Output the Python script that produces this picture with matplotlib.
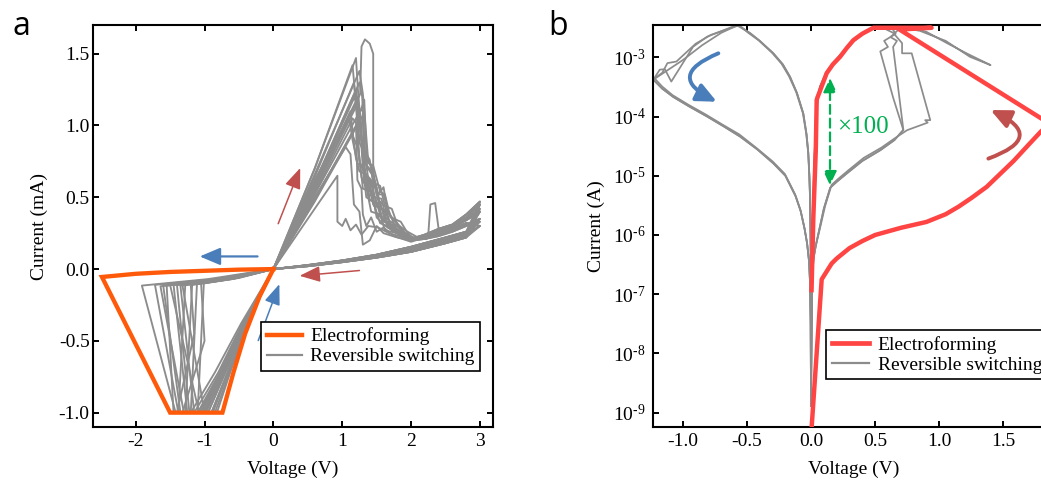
import matplotlib
matplotlib.use("Agg")
import matplotlib.pyplot as plt
from matplotlib.lines import Line2D
from matplotlib.patches import FancyArrowPatch
from matplotlib.ticker import FixedLocator, FixedFormatter, NullLocator

plt.rcParams.update({
    "font.family": ["Liberation Serif", "DejaVu Serif"],
    "font.size": 14,
    "axes.unicode_minus": False,
    "mathtext.fontset": "custom",
    "mathtext.rm": "Liberation Serif",
    "mathtext.it": "Liberation Serif:italic",
    "mathtext.bf": "Liberation Serif:bold",
})

GRAY = "#8c8c8c"
ORANGE = "#ff5a0a"
RED = "#ff4444"
BLUE = "#4a7ebb"
BRICK = "#c0504d"
GREEN = "#00b050"

# ---------------- panel a : linear I-V (mA) ----------------
# electroforming sweep
ef_a_v = [0.0, -0.5, -1.0, -1.5, -2.0, -2.49, -1.5, -0.74, -0.58, -0.41, -0.2, 0.0]
ef_a_i = [0.0, -0.004, -0.012, -0.02, -0.033, -0.055, -1.0, -1.0, -0.72, -0.45, -0.19, 0.0]

# positive sweeps of the switching cycles (0 V up to ~2 V, LRS -> reset)
up_sweeps_a = [
    [(0, 0), (0.6, 0.70), (1.2, 1.47), (1.26, 1.0), (1.3, 0.70), (1.37, 0.62), (1.45, 0.45), (1.55, 0.47), (1.62, 0.34), (1.75, 0.30), (1.9, 0.23), (2.0, 0.21)],
    [(0, 0), (0.6, 0.70), (1.15, 1.42), (1.2, 1.15), (1.25, 0.75), (1.32, 0.68), (1.38, 0.52), (1.48, 0.5), (1.56, 0.36), (1.7, 0.3), (1.85, 0.25), (2.0, 0.22)],
    [(0, 0), (0.6, 0.6), (1.25, 1.3), (1.29, 1.2), (1.33, 0.78), (1.44, 0.7), (1.5, 0.52), (1.6, 0.52), (1.68, 0.38), (1.8, 0.32), (1.95, 0.23), (2.05, 0.21)],
    [(0, 0), (0.6, 0.6), (1.2, 1.25), (1.24, 1.05), (1.28, 0.92), (1.35, 0.72), (1.43, 0.66), (1.52, 0.48), (1.62, 0.44), (1.7, 0.31), (1.85, 0.25), (2.0, 0.21)],
    [(0, 0), (0.6, 0.59), (1.18, 1.2), (1.22, 1.12), (1.3, 1.1), (1.32, 0.6), (1.4, 0.6), (1.46, 0.44), (1.58, 0.42), (1.66, 0.29), (1.8, 0.27), (2.0, 0.2)],
    [(0, 0), (0.6, 0.55), (1.22, 1.15), (1.25, 0.88), (1.33, 0.8), (1.38, 0.62), (1.5, 0.57), (1.56, 0.42), (1.68, 0.4), (1.78, 0.28), (1.9, 0.25), (2.05, 0.21)],
    [(0, 0), (0.6, 0.57), (1.12, 1.1), (1.16, 0.92), (1.23, 0.84), (1.28, 0.64), (1.35, 0.57), (1.42, 0.4), (1.55, 0.38), (1.62, 0.27), (1.8, 0.25), (2.0, 0.2)],
    [(0, 0), (0.6, 0.52), (1.28, 1.12), (1.32, 1.18), (1.36, 0.72), (1.45, 0.67), (1.52, 0.52), (1.6, 0.57), (1.66, 0.4), (1.75, 0.34), (1.88, 0.26), (2.05, 0.21)],
    [(0, 0), (0.6, 0.55), (1.1, 1.05), (1.15, 0.9), (1.22, 0.74), (1.3, 0.7), (1.35, 0.5), (1.45, 0.47), (1.55, 0.32), (1.7, 0.29), (1.85, 0.23), (2.0, 0.2)],
    [(0, 0), (0.6, 0.48), (1.2, 1.0), (1.24, 0.82), (1.3, 0.56), (1.42, 0.54), (1.5, 0.38), (1.6, 0.35), (1.75, 0.26), (1.9, 0.23), (2.0, 0.2)],
    [(0, 0), (0.6, 0.49), (1.15, 0.95), (1.2, 0.77), (1.25, 0.68), (1.35, 0.66), (1.4, 0.48), (1.52, 0.46), (1.6, 0.33), (1.72, 0.31), (1.85, 0.25), (2.0, 0.21)],
    [(0, 0), (0.6, 0.47), (1.3, 1.07), (1.33, 0.82), (1.4, 0.76), (1.45, 0.6), (1.55, 0.58), (1.62, 0.44), (1.72, 0.42), (1.8, 0.31), (1.95, 0.26), (2.1, 0.22), (2.25, 0.24), (2.28, 0.45), (2.35, 0.46), (2.4, 0.28)],
    [(0, 0), (0.6, 0.42), (0.93, 0.65), (0.93, 0.33), (1.0, 0.3), (1.05, 0.35), (1.12, 0.27), (1.2, 0.31), (1.28, 0.24), (1.38, 0.3), (1.52, 0.29), (1.68, 0.25), (1.9, 0.22), (2.0, 0.2)],
    [(0, 0), (0.6, 0.62), (1.2, 1.15), (1.26, 1.22), (1.28, 1.55), (1.33, 1.6), (1.4, 1.57), (1.45, 1.5), (1.45, 0.5), (1.5, 0.36), (1.6, 0.31), (1.75, 0.26), (1.9, 0.22), (2.0, 0.2)],
    [(0, 0), (0.6, 0.53), (1.15, 1.05), (1.2, 1.02), (1.22, 0.62), (1.28, 0.56), (1.3, 0.38), (1.35, 0.3), (1.42, 0.36), (1.5, 0.26), (1.6, 0.29), (1.75, 0.23), (2.0, 0.19)],
    [(0, 0), (0.6, 0.66), (1.25, 1.38), (1.3, 1.22), (1.38, 0.74), (1.45, 0.72), (1.55, 0.54), (1.62, 0.52), (1.7, 0.36), (1.85, 0.33), (1.95, 0.25), (2.05, 0.21)],
    [(0, 0), (0.6, 0.5), (1.05, 0.85), (1.12, 0.8), (1.17, 0.45), (1.25, 0.4), (1.3, 0.17), (1.4, 0.2), (1.5, 0.3), (1.6, 0.25), (1.8, 0.22), (2.0, 0.2)],
    [(0, 0), (0.6, 0.64), (1.17, 1.3), (1.21, 1.1), (1.27, 0.95), (1.34, 0.66), (1.42, 0.62), (1.5, 0.44), (1.63, 0.4), (1.72, 0.28), (1.88, 0.24), (2.0, 0.21)],
    [(0, 0), (0.6, 0.58), (1.23, 1.2), (1.27, 1.05), (1.31, 0.68), (1.4, 0.63), (1.47, 0.5), (1.57, 0.49), (1.64, 0.35), (1.77, 0.31), (1.92, 0.24), (2.05, 0.21)],
]

# high-resistance branch up to 3 V and back to 0 V
hrs_fwd_v = [2.2, 2.4, 2.6, 2.8, 3.0]
hrs_fwd_rows = [
    [0.22, 0.25, 0.29, 0.34, 0.40],
    [0.23, 0.26, 0.30, 0.36, 0.45],
    [0.21, 0.24, 0.27, 0.31, 0.35],
    [0.24, 0.28, 0.31, 0.38, 0.47],
    [0.22, 0.25, 0.28, 0.32, 0.30],
    [0.21, 0.23, 0.26, 0.30, 0.33],
    [0.23, 0.27, 0.30, 0.35, 0.42],
]
hrs_ret_v = [2.8, 2.5, 2.0, 1.5, 1.0, 0.5, 0.0]
hrs_ret_rows = [
    [0.24, 0.20, 0.14, 0.09, 0.055, 0.025, 0.0],
    [0.22, 0.18, 0.12, 0.08, 0.048, 0.02, 0.0],
    [0.26, 0.22, 0.155, 0.10, 0.06, 0.028, 0.0],
    [0.23, 0.19, 0.13, 0.085, 0.05, 0.022, 0.0],
    [0.25, 0.21, 0.145, 0.095, 0.058, 0.026, 0.0],
]

# negative sweeps: HRS -> set -> compliance (-1 mA) -> LRS back to 0 V
down_sweeps_a = [
    [(0, 0), (-0.95, -0.07), (-1.91, -0.115), (-1.42, -1.0), (-1.15, -1.0), (-0.8, -0.72), (-0.45, -0.38), (0, 0)],
    [(0, 0), (-0.86, -0.07), (-1.72, -0.11), (-1.38, -1.0), (-1.05, -1.0), (-0.75, -0.72), (-0.42, -0.38), (0, 0)],
    [(0, 0), (-0.82, -0.075), (-1.64, -0.12), (-1.3, -1.0), (-1.0, -1.0), (-0.72, -0.72), (-0.4, -0.37), (0, 0)],
    [(0, 0), (-0.78, -0.075), (-1.55, -0.115), (-1.45, -1.0), (-1.2, -1.0), (-0.85, -0.72), (-0.47, -0.38), (0, 0)],
    [(0, 0), (-0.72, -0.07), (-1.45, -0.11), (-1.25, -1.0), (-0.95, -1.0), (-0.68, -0.7), (-0.38, -0.36), (0, 0)],
    [(0, 0), (-0.68, -0.07), (-1.35, -0.115), (-1.15, -1.0), (-0.9, -1.0), (-0.66, -0.72), (-0.37, -0.37), (0, 0)],
    [(0, 0), (-0.64, -0.068), (-1.28, -0.11), (-1.38, -1.0), (-1.05, -1.0), (-0.78, -0.74), (-0.44, -0.4), (0, 0)],
    [(0, 0), (-0.6, -0.068), (-1.18, -0.11), (-1.28, -1.0), (-0.98, -1.0), (-0.7, -0.7), (-0.4, -0.38), (0, 0)],
    [(0, 0), (-0.56, -0.065), (-1.11, -0.105), (-1.2, -1.0), (-0.88, -1.0), (-0.64, -0.7), (-0.36, -0.36), (0, 0)],
    [(0, 0), (-0.5, -0.062), (-1.01, -0.1), (-1.1, -1.0), (-0.85, -1.0), (-0.62, -0.7), (-0.35, -0.35), (0, 0)],
    [(0, 0), (-0.52, -0.06), (-1.05, -0.1), (-1.0, -0.5), (-1.32, -1.0), (-1.02, -1.0), (-0.74, -0.72), (-0.42, -0.38), (0, 0)],
    [(0, 0), (-0.6, -0.07), (-1.2, -0.11), (-1.15, -0.45), (-1.4, -1.0), (-1.1, -1.0), (-0.8, -0.74), (-0.45, -0.4), (0, 0)],
    [(0, 0), (-0.66, -0.07), (-1.32, -0.115), (-1.0, -1.0), (-0.82, -1.0), (-0.6, -0.68), (-0.33, -0.34), (0, 0)],
    [(0, 0), (-0.75, -0.07), (-1.5, -0.11), (-1.08, -1.0), (-0.9, -1.0), (-0.66, -0.71), (-0.37, -0.36), (0, 0)],
    [(0, 0), (-0.8, -0.072), (-1.6, -0.115), (-1.35, -1.0), (-1.08, -1.0), (-0.77, -0.73), (-0.43, -0.39), (0, 0)],
    [(0, 0), (-0.7, -0.07), (-1.4, -0.112), (-1.22, -1.0), (-0.95, -1.0), (-0.69, -0.71), (-0.39, -0.37), (0, 0)],
]

a_xticks = [-2, -1, 0, 1, 2, 3]
a_xlabels = ["-2", "-1", "0", "1", "2", "3"]
a_yticks = [-1.0, -0.5, 0.0, 0.5, 1.0, 1.5]
a_ylabels = ["-1.0", "-0.5", "0.0", "0.5", "1.0", "1.5"]

# ---------------- panel b : log |I| (A) ----------------
ef_b_v = [0.0, 0.083, 0.161, 0.2, 0.3, 0.4, 0.5, 0.7, 0.9, 1.05, 1.15, 1.25, 1.37, 1.47, 1.58, 1.7, 1.79, 1.86,
          0.69, 0.94, 0.486, 0.4, 0.33, 0.28, 0.226, 0.17, 0.122, 0.09, 0.062, 0.05, 0.044, 0.037, 0.018, 0.004]
ef_b_i = [4e-10, 1.78e-7, 3.3e-7, 4e-7, 6e-7, 7.9e-7, 1e-6, 1.32e-6, 1.66e-6, 2.24e-6, 3e-6, 4.2e-6, 6.5e-6,
          1.05e-5, 1.78e-5, 3.4e-5, 5.5e-5, 7.6e-5,
          2.95e-3, 3.16e-3, 3.16e-3, 2.51e-3, 1.95e-3, 1.45e-3, 1.02e-3, 7.6e-4, 5.4e-4, 3.55e-4, 2.45e-4,
          2.1e-4, 1.9e-4, 2.7e-5, 2e-6, 1.17e-7]

b_lrs_pos = [
    ([0.0, 0.003, 0.008, 0.015, 0.022, 0.03, 0.038, 0.05, 0.07, 0.09, 0.12, 0.17, 0.22, 0.28, 0.33, 0.4, 0.45, 0.52],
     [1.3e-9, 3.2e-8, 2.5e-7, 1.6e-6, 1e-5, 3.2e-5, 1e-4, 2e-4, 3.2e-4, 4e-4, 5.6e-4, 7.9e-4, 1.05e-3, 1.45e-3,
      1.9e-3, 2.5e-3, 2.9e-3, 3.4e-3]),
    ([0.0, 0.004, 0.009, 0.017, 0.024, 0.032, 0.041, 0.053, 0.074, 0.095, 0.126, 0.177, 0.228, 0.29, 0.34, 0.41, 0.46, 0.53],
     [1.5e-9, 3.5e-8, 2.8e-7, 1.8e-6, 1.1e-5, 3.5e-5, 1.05e-4, 2.05e-4, 3.3e-4, 4.1e-4, 5.7e-4, 8e-4, 1.07e-3, 1.47e-3,
      1.92e-3, 2.5e-3, 2.9e-3, 3.4e-3]),
]
b_reset = [
    ([0.62, 0.66, 0.57, 0.60, 0.54, 0.64, 0.72],
     [3.4e-3, 2.5e-3, 1.9e-3, 1.5e-3, 1.26e-3, 2.1e-4, 5.9e-5]),
    ([0.64, 0.71, 0.71, 0.785, 0.93, 0.89, 0.91, 0.75],
     [2.6e-3, 1.74e-3, 1.17e-3, 1.17e-3, 8.7e-5, 8.7e-5, 7.9e-5, 5.9e-5]),
    ([0.75, 0.90, 1.06, 1.22, 1.40, 1.24, 1.05, 0.85, 0.70, 0.62, 0.67, 0.64, 0.72],
     [3.3e-3, 2.7e-3, 1.74e-3, 1.15e-3, 7.4e-4, 1.02e-3, 1.9e-3, 2.8e-3, 3.2e-3, 2.2e-3, 1.9e-3, 1.5e-3, 6.0e-5]),
]
b_hrs_pos = [
    ([0.65, 0.54, 0.4, 0.28, 0.2, 0.15, 0.1, 0.06, 0.035, 0.018, 0.008, 0.003, 0.0],
     [4e-5, 2.7e-5, 1.78e-5, 1.1e-5, 7.9e-6, 6.3e-6, 2.8e-6, 1.12e-6, 6.3e-7, 3.8e-7, 1.6e-7, 3.2e-8, 1.3e-9]),
    ([0.66, 0.55, 0.41, 0.29, 0.21, 0.16, 0.11, 0.068, 0.04, 0.02, 0.009, 0.004, 0.0],
     [4.4e-5, 3.0e-5, 2.0e-5, 1.23e-5, 8.8e-6, 7.0e-6, 3.1e-6, 1.25e-6, 7e-7, 4.2e-7, 1.8e-7, 3.5e-8, 1.5e-9]),
]
b_hrs_neg = [
    ([-0.003, -0.008, -0.015, -0.03, -0.05, -0.08, -0.12, -0.2, -0.294, -0.42, -0.554, -0.68, -0.81, -0.95,
      -1.074, -1.16, -1.23],
     [3.2e-8, 1.6e-7, 3.5e-7, 7e-7, 1.26e-6, 2.5e-6, 4.5e-6, 1e-5, 1.62e-5, 2.8e-5, 4.6e-5, 6.8e-5, 1e-4,
      1.48e-4, 2.14e-4, 2.95e-4, 4.2e-4]),
    ([-0.004, -0.009, -0.017, -0.032, -0.053, -0.084, -0.125, -0.205, -0.3, -0.43, -0.56, -0.69, -0.82, -0.96,
      -1.08, -1.16, -1.22],
     [3.5e-8, 1.7e-7, 3.8e-7, 7.6e-7, 1.36e-6, 2.7e-6, 4.9e-6, 1.08e-5, 1.75e-5, 3.0e-5, 5.0e-5, 7.3e-5, 1.08e-4,
      1.6e-4, 2.3e-4, 3.2e-4, 4.4e-4]),
]
b_set = [
    ([-1.18, -1.14, -1.09, -0.92, -0.81, -0.58],
     [6.2e-4, 6.3e-4, 3.9e-4, 1.51e-3, 2.24e-3, 3.5e-3]),
    ([-1.16, -1.12, -1.05, -0.9, -0.78, -0.56],
     [5.5e-4, 8.0e-4, 8.5e-4, 1.7e-3, 2.4e-3, 3.5e-3]),
    ([-1.0, -0.85, -0.7, -0.57],
     [9e-4, 1.6e-3, 2.6e-3, 3.5e-3]),
]
b_lrs_neg = [
    ([-0.476, -0.4, -0.294, -0.22, -0.164, -0.11, -0.06, -0.035, -0.021, -0.013, -0.008, -0.003, 0.0],
     [2.57e-3, 1.9e-3, 1.17e-3, 7.6e-4, 4.7e-4, 2.5e-4, 1.12e-4, 5e-5, 2.4e-5, 1e-5, 4.5e-6, 6.3e-7, 1.0e-7]),
    ([-0.49, -0.41, -0.305, -0.23, -0.172, -0.116, -0.064, -0.038, -0.023, -0.014, -0.009, -0.003, 0.0],
     [2.6e-3, 1.95e-3, 1.2e-3, 7.8e-4, 4.8e-4, 2.6e-4, 1.15e-4, 5.2e-5, 2.5e-5, 1.05e-5, 4.8e-6, 6.5e-7, 1.1e-7]),
]

b_xticks = [-1.0, -0.5, 0.0, 0.5, 1.0, 1.5]
b_xlabels = ["-1.0", "-0.5", "0.0", "0.5", "1.0", "1.5"]
b_yticks = [1e-9, 1e-8, 1e-7, 1e-6, 1e-5, 1e-4, 1e-3]
b_ylabels = [r"$\mathregular{10^{\text{-}9}}$", r"$\mathregular{10^{\text{-}8}}$", r"$\mathregular{10^{\text{-}7}}$",
             r"$\mathregular{10^{\text{-}6}}$", r"$\mathregular{10^{\text{-}5}}$", r"$\mathregular{10^{\text{-}4}}$",
             r"$\mathregular{10^{\text{-}3}}$"]

legend_labels = ["Electroforming", "Reversible switching"]

# ---------------- figure ----------------
W, H = 1041, 483
fig = plt.figure(figsize=(W / 100, H / 100), dpi=100)


def px_box(x0, y0, x1, y1):
    return [x0 / W, 1 - y1 / H, (x1 - x0) / W, (y1 - y0) / H]


ax_a = fig.add_axes(px_box(93, 25, 493, 427))
ax_b = fig.add_axes(px_box(652.7, 25, 1054, 427))

for ax in (ax_a, ax_b):
    for s in ax.spines.values():
        s.set_linewidth(1.5)
    ax.tick_params(direction="in", length=4, width=1.4, top=True, right=True)

# ---- panel a
for k, pts in enumerate(up_sweeps_a):
    v = [p[0] for p in pts]
    i = [p[1] for p in pts]
    fwd = hrs_fwd_rows[k % len(hrs_fwd_rows)]
    for gv, gi in zip(hrs_fwd_v, fwd):
        if gv > v[-1]:
            v.append(gv)
            i.append(gi)
    ret = hrs_ret_rows[k % len(hrs_ret_rows)]
    v += hrs_ret_v
    i += ret
    ax_a.plot(v, i, color=GRAY, lw=1.35, zorder=2)

for pts in down_sweeps_a:
    ax_a.plot([p[0] for p in pts], [p[1] for p in pts], color=GRAY, lw=1.35, zorder=2)

ax_a.plot(ef_a_v, ef_a_i, color=ORANGE, lw=3.1, zorder=3, solid_joinstyle="miter")

ax_a.set_xlim(-2.62, 3.19)
ax_a.set_ylim(-1.10, 1.70)
ax_a.set_xticks(a_xticks)
ax_a.set_xticklabels(a_xlabels)
ax_a.set_yticks(a_yticks)
ax_a.set_yticklabels(a_ylabels)
ax_a.tick_params(axis="y", pad=2.5)
ax_a.tick_params(axis="x", pad=4)
ax_a.set_xlabel("Voltage (V)")
ax_a.set_ylabel("Current (mA)")
ax_a.xaxis.set_label_coords(0.5, -0.083)
ax_a.yaxis.set_label_coords(-0.113, 0.5)


def straight_arrow(ax, tail, head, color, lw, hl, hw):
    ax.annotate("", xy=head, xytext=tail,
                arrowprops=dict(arrowstyle=f"-|>,head_length={hl},head_width={hw}",
                                color=color, lw=lw, shrinkA=0, shrinkB=0),
                zorder=4)


straight_arrow(ax_a, (-0.23, 0.088), (-1.07, 0.088), BLUE, 1.6, 0.9, 0.38)
straight_arrow(ax_a, (0.07, 0.316), (0.39, 0.704), BRICK, 1.1, 0.9, 0.35)
straight_arrow(ax_a, (1.25, -0.01), (0.38, -0.047), BRICK, 1.1, 0.9, 0.35)
straight_arrow(ax_a, (-0.22, -0.498), (0.087, -0.105), BLUE, 1.1, 0.9, 0.35)

h_ef_a = Line2D([], [], color=ORANGE, lw=3.2)
h_rs = Line2D([], [], color=GRAY, lw=1.6)
leg_a = ax_a.legend([h_ef_a, h_rs], legend_labels, loc="upper left",
                    bbox_to_anchor=(260.7 / W, 1 - 321.7 / H), bbox_transform=fig.transFigure,
                    borderaxespad=0, fancybox=False, framealpha=1, edgecolor="black",
                    handlelength=1.8, handletextpad=0.45, borderpad=0.3, labelspacing=0.12)
leg_a.get_frame().set_linewidth(1.2)
leg_a.set_zorder(6)

# ---- panel b
for k in range(3):
    parts = [b_lrs_pos[k % 2], b_reset[k], b_hrs_pos[k % 2], b_hrs_neg[k % 2],
             b_set[k], b_lrs_neg[k % 2]]
    v, i = [], []
    for pv, pi in parts:
        v += pv
        i += pi
    ax_b.plot(v, i, color=GRAY, lw=1.25, zorder=2)

ax_b.plot(ef_b_v, ef_b_i, color=RED, lw=3.2, zorder=3, solid_joinstyle="round")

ax_b.set_yscale("log")
ax_b.set_xlim(-1.235, 1.895)
ax_b.set_ylim(5.71e-10, 3.52e-3)
ax_b.set_xticks(b_xticks)
ax_b.set_xticklabels(b_xlabels)
ax_b.yaxis.set_major_locator(FixedLocator(b_yticks))
ax_b.yaxis.set_major_formatter(FixedFormatter(b_ylabels))
ax_b.yaxis.set_minor_locator(NullLocator())
ax_b.tick_params(axis="y", pad=5)
ax_b.tick_params(axis="x", pad=4)
ax_b.set_xlabel("Voltage (V)")
ax_b.set_ylabel("Current (A)")
ax_b.xaxis.set_label_coords(0.5, -0.083)
ax_b.yaxis.set_label_coords(-0.119, 0.5)

# x100 window between LRS and HRS
ax_b.annotate("", xy=(0.148, 4.5e-4), xytext=(0.148, 6.9e-6),
              arrowprops=dict(arrowstyle="<|-|>,head_length=0.6,head_width=0.28",
                              color=GREEN, lw=1.6, linestyle=(0, (4, 2.2)),
                              shrinkA=0, shrinkB=0), zorder=4)
ax_b.text(0.20, 6.7e-5, "\u00d7100", color=GREEN, fontsize=18, ha="left", va="center", zorder=4)

ax_b.add_patch(FancyArrowPatch((-0.723, 1.17e-3), (-0.735, 1.78e-4),
                               connectionstyle="arc3,rad=1.1",
                               arrowstyle="-|>,head_length=1.2,head_width=0.55",
                               mutation_scale=10, lw=2.8, color=BLUE,
                               shrinkA=0, shrinkB=0, zorder=4))
ax_b.add_patch(FancyArrowPatch((1.383, 1.95e-5), (1.40, 1.29e-4),
                               connectionstyle="arc3,rad=1.2",
                               arrowstyle="-|>,head_length=1.2,head_width=0.55",
                               mutation_scale=10, lw=2.8, color=BRICK,
                               shrinkA=0, shrinkB=0, zorder=4))

h_ef_b = Line2D([], [], color=RED, lw=3.4)
leg_b = ax_b.legend([h_ef_b, h_rs], legend_labels, loc="upper left",
                    bbox_to_anchor=(826 / W, 1 - 330 / H), bbox_transform=fig.transFigure,
                    borderaxespad=0, fancybox=False, framealpha=1, edgecolor="black",
                    handlelength=1.9, handletextpad=0.45, borderpad=0.3, labelspacing=0.12)
leg_b.get_frame().set_linewidth(1.2)
leg_b.set_zorder(6)

# panel letters
fig.text(12.7 / W, 1 - 35 / H, "a", fontfamily="Open Sans", fontsize=23, ha="left", va="baseline")
fig.text(548 / W, 1 - 35 / H, "b", fontfamily="Open Sans", fontsize=23, ha="left", va="baseline")

fig.savefig("out.png", dpi=100)
